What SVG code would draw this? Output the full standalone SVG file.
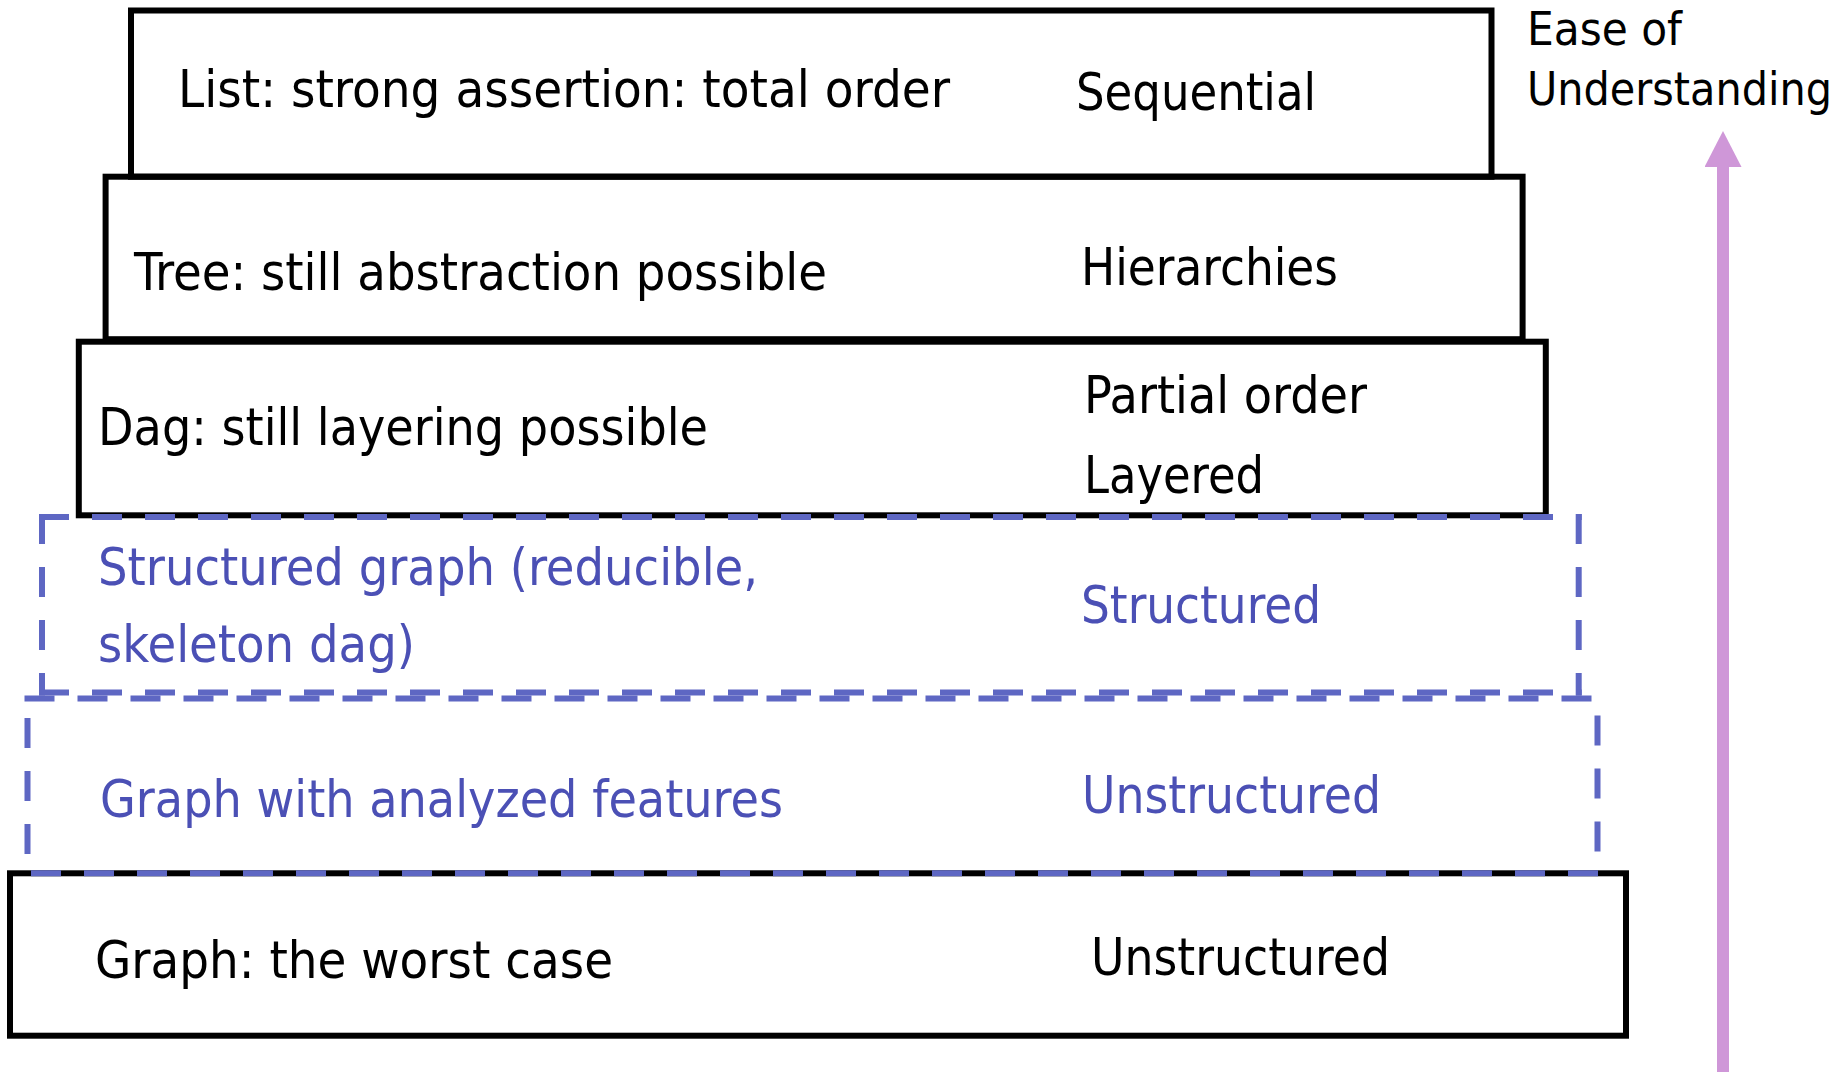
<svg xmlns="http://www.w3.org/2000/svg" width="1847" height="1072" viewBox="0 0 1847 1072">
<style>
.box{fill:none;stroke:#000;stroke-width:6;stroke-linejoin:miter}
.dash{fill:none;stroke:#5E67C3;stroke-width:6;stroke-dasharray:30 23}
.t{font-family:"DejaVu Sans Condensed","DejaVu Sans",sans-serif;font-stretch:condensed;font-size:52px;fill:#000}
.b{fill:#4B50B5}
.s{font-size:47px}
</style>
<defs>
<marker id="ah" markerUnits="userSpaceOnUse" viewBox="0 0 36 37" markerWidth="36" markerHeight="37" refX="0" refY="18.5" orient="auto">
<path d="M0,0 L36,18.5 L0,37 z" fill="#CF97D8"/>
</marker>
</defs>
<rect width="1847" height="1072" fill="#fff"/>

<g id="list">
<rect class="box" x="131" y="10.5" width="1360.5" height="166.2"/>
<text class="t" x="178" y="107" textLength="772" lengthAdjust="spacingAndGlyphs">List: strong assertion: total order</text>
<text class="t" x="1076" y="110" textLength="240" lengthAdjust="spacingAndGlyphs">Sequential</text>
</g>

<g id="tree">
<rect class="box" x="105.6" y="176.7" width="1417" height="162.5"/>
<text class="t" x="134" y="290" textLength="693" lengthAdjust="spacingAndGlyphs">Tree: still abstraction possible</text>
<text class="t" x="1081" y="285" textLength="257" lengthAdjust="spacingAndGlyphs">Hierarchies</text>
</g>

<g id="dag">
<rect class="box" x="78.8" y="341.7" width="1467" height="173.6"/>
<text class="t" x="98" y="445" textLength="610" lengthAdjust="spacingAndGlyphs">Dag: still layering possible</text>
<text class="t" x="1084" y="412.5" textLength="283" lengthAdjust="spacingAndGlyphs">Partial order</text>
<text class="t" x="1084" y="493" textLength="180" lengthAdjust="spacingAndGlyphs">Layered</text>
</g>

<g id="graph">
<rect class="box" x="10" y="873.3" width="1616" height="162.4"/>
<text class="t" x="95" y="978" textLength="518" lengthAdjust="spacingAndGlyphs">Graph: the worst case</text>
<text class="t" x="1091" y="975" textLength="299" lengthAdjust="spacingAndGlyphs">Unstructured</text>
</g>

<g id="structured">
<line class="dash" x1="39" y1="517" x2="1581.7" y2="517"/>
<line class="dash" x1="42" y1="514" x2="42" y2="695.6"/>
<line class="dash" x1="1578.7" y1="514" x2="1578.7" y2="695.6"/>
<line class="dash" x1="39" y1="692.6" x2="1581.7" y2="692.6"/>
<text class="t b" x="98" y="585" textLength="660" lengthAdjust="spacingAndGlyphs">Structured graph (reducible,</text>
<text class="t b" x="98" y="661.5" textLength="317" lengthAdjust="spacingAndGlyphs">skeleton dag)</text>
<text class="t b" x="1081" y="623" textLength="240" lengthAdjust="spacingAndGlyphs">Structured</text>
</g>

<g id="analyzed">
<line class="dash" x1="24.5" y1="698.5" x2="1600.5" y2="698.5"/>
<line class="dash" x1="27.5" y1="698.5" x2="27.5" y2="873" stroke-dashoffset="33.5"/>
<line class="dash" x1="1597.5" y1="698.5" x2="1597.5" y2="873" stroke-dashoffset="36"/>
<line class="dash" x1="27.5" y1="873.3" x2="1600.5" y2="873.3" stroke-dashoffset="49.5"/>
<text class="t b" x="100" y="816.5" textLength="683" lengthAdjust="spacingAndGlyphs">Graph with analyzed features</text>
<text class="t b" x="1082" y="812.5" textLength="299" lengthAdjust="spacingAndGlyphs">Unstructured</text>
</g>

<g id="label">
<text class="t s" x="1527" y="45" textLength="155" lengthAdjust="spacingAndGlyphs">Ease of</text>
<text class="t s" x="1527" y="105" textLength="305" lengthAdjust="spacingAndGlyphs">Understanding</text>
</g>

<g id="connectors">
<line x1="1723" y1="1072" x2="1723" y2="167" stroke="#CF97D8" stroke-width="12" marker-end="url(#ah)"/>
</g>
</svg>
